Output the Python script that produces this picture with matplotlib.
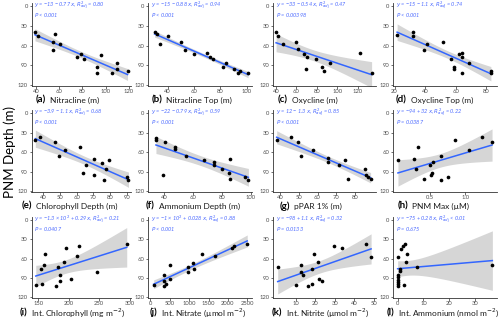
import numpy as np
import matplotlib
matplotlib.use("Agg")
import matplotlib.pyplot as plt

plt.rcParams['font.family'] = ['Lato', 'DejaVu Sans']

# ---- data (PNM depth in m, y axis) ----
nitracline_x = [39, 42, 56, 55, 61, 55, 75, 79, 81, 96, 93, 93, 106, 110, 110, 119]
nitracline_y = [39, 46, 43, 54, 57, 67, 77, 73, 81, 74, 92, 102, 101, 86, 96, 98]

nitr_top_x = [30, 31.6, 34, 40, 50, 53.4, 60, 70, 72.4, 74, 82, 84, 90, 93, 95, 101]
nitr_top_y = [39, 42, 57, 46, 54, 67, 73, 71, 77, 81, 92, 86, 96, 102, 99, 101]

oxycline_x = [40, 42, 47, 59.5, 62, 67, 70, 69.7, 79, 84.6, 87, 93, 122.5, 133.7]
oxycline_y = [39, 46, 57, 54, 66, 73, 77, 96, 81, 92, 98, 86, 71, 102]

oxy_top_x = [21.7, 32, 32, 41, 39.4, 52, 57, 59, 59, 62, 64, 64, 64, 68.4, 83, 83]
oxy_top_y = [43.5, 40, 46, 58, 67, 55, 81, 92, 96, 73, 71, 77, 101, 86, 98, 101]

chl_depth_x = [35.3, 38.2, 47, 49.6, 53.3, 61.8, 63.7, 65.3, 70.4, 70.4, 75, 76.3, 77.5, 79.4, 90, 91]
chl_depth_y = [41, 37, 44, 66, 57, 52, 91.5, 80, 70, 96, 77, 103, 86, 73, 98, 103]

nh4_depth_x = [34.5, 34.5, 41, 48, 48, 55, 68, 75, 75, 80, 85, 86, 86, 96, 98.5, 39.5]
nh4_depth_y = [38, 41, 44, 53, 55.5, 66, 72.5, 76, 80, 86, 92, 70, 102, 98.6, 103, 96]

ppar_x = [38, 45.7, 49.3, 51, 57.7, 65.7, 65.4, 71.6, 74.8, 76.4, 85.4, 86.3, 87.3, 88.6]
ppar_y = [42, 37, 44.4, 66, 56.6, 69, 76, 80, 72.5, 102, 86, 96, 98.6, 102]

pnm_max_x = [0.05, 0.27, 0.3, 0.34, 0.42, 0.51, 0.52, 0.53, 0.54, 0.66, 0.66, 0.76, 0.85, 1.06, 1.24, 1.38]
pnm_max_y = [73, 70, 86, 53, 102, 80, 95, 92.6, 76, 66, 103, 99, 41, 56.6, 37, 44.4]

int_chl_x = [146, 156, 155, 159, 160.5, 179, 182.6, 185, 186, 192, 196, 204, 214, 217, 247, 295]
int_chl_y = [102, 99, 77, 70, 53, 103, 72.5, 95, 86, 66, 44, 91.5, 56.6, 41, 81, 37]

int_no3_x = [85, 342, 359, 359, 402, 513, 513, 983, 983, 1111, 1137, 1342, 1667, 2095, 2155, 2497]
int_no3_y = [102, 95, 86, 103, 99, 92, 70, 72.5, 80.6, 67, 77, 53, 56.6, 44, 41, 38]

int_no2_x = [0.9, 10.4, 12.7, 12.7, 14, 16.4, 18.5, 18.5, 19.5, 21.6, 22.2, 23.5, 29.5, 33.6, 46, 48.5]
int_no2_y = [73, 102, 70, 81, 86, 103, 99.5, 77, 53, 66, 91.5, 95, 41, 44, 38, 57]

int_nh4_x = [0, 0, 0, 0, 0, 0, 0, 0.9, 0.9, 1.3, 2.2, 2.8, 2.6, 3.2, 3.5, 7.6, 36.7]
int_nh4_y = [57, 85, 89, 94, 97, 99, 103, 77, 80, 45, 41, 38, 102, 66, 53, 73, 70]

letters = ['a', 'b', 'c', 'd', 'e', 'f', 'g', 'h', 'i', 'j', 'k', 'l']
xlabels = ['Nitracline (m)', 'Nitracline Top (m)', 'Oxycline (m)', 'Oxycline Top (m)',
           'Chlorophyll Depth (m)', 'Ammonium Depth (m)', 'pPAR 1% (m)', 'PNM Max (µM)',
           'Int. Chlorophyll (mg m$^{-2}$)', 'Int. Nitrate (µmol m$^{-2}$)',
           'Int. Nitrite (µmol m$^{-2}$)', 'Int. Ammonium (nmol m$^{-2}$)']
equations = ['−13 − 0.77', '−15 − 0.88', '−33 − 0.54', '−15 − 1.1',
             '−3.9 − 1.1', '−22 − 0.79', '12 − 1.3', '−94 + 32',
             '−1.3 × 10$^{2}$ + 0.29', '−1 × 10$^{2}$ + 0.028', '−98 + 1.1', '−75 + 0.28']
r2_text = ['= 0.80', '= 0.94', '= 0.47', '= 0.74', '= 0.68', '= 0.59',
           '= 0.85', '= 0.22', '= 0.21', '= 0.88', '= 0.32', '< 0.01']
p_text = ['< 0.001', '< 0.001', '= 0.00398', '< 0.001', '< 0.001', '< 0.001',
          '< 0.001', '= 0.0387', '= 0.0407', '< 0.001', '= 0.0133', '= 0.675']

xs_all = [nitracline_x, nitr_top_x, oxycline_x, oxy_top_x, chl_depth_x, nh4_depth_x,
          ppar_x, pnm_max_x, int_chl_x, int_no3_x, int_no2_x, int_nh4_x]
ys_all = [nitracline_y, nitr_top_y, oxycline_y, oxy_top_y, chl_depth_y, nh4_depth_y,
          ppar_y, pnm_max_y, int_chl_y, int_no3_y, int_no2_y, int_nh4_y]

xticks = [[40, 60, 80, 100, 120], [40, 60, 80, 100], [40, 60, 80, 100, 120], [20, 40, 60, 80],
          [40, 50, 60, 70, 80, 90], [40, 60, 80, 100], [40, 50, 60, 70, 80], [0.5, 1.0],
          [150, 200, 250, 300], [0, 500, 1000, 1500, 2000, 2500], [10, 20, 30, 40, 50], [0, 10, 20, 30]]
xlims = [(36, 122), (25, 104), (37, 138), (19, 87), (33, 92.5), (29, 101), (36, 91.5),
         (-0.02, 1.45), (139, 302), (-60, 2620), (-1.5, 51), (-1.8, 38.5)]

# layout in pixels (figure 500 x 321)
col_left = [31.5, 148, 273, 393]
col_right = [131, 252, 376, 497]
row_top = [3.4, 110.4, 217.4]
row_bottom = [85.7, 191.7, 297.7]
lab_y = [100, 206, 312.5]
lab_left = [50, 166, 292, 411, 36, 159, 294, 412, 31, 161, 286, 398]

W, H = 500, 321
fig = plt.figure(figsize=(W / 100, H / 100), dpi=100)

blue = '#3366FF'
txt_blue = '#4d6bff'

for i in range(12):
    r, c = divmod(i, 4)
    ax_h = row_bottom[r] - row_top[r]
    ax = fig.add_axes([col_left[c] / W, 1 - row_bottom[r] / H,
                       (col_right[c] - col_left[c]) / W, ax_h / H])
    x = np.array(xs_all[i], dtype=float)
    y = np.array(ys_all[i], dtype=float)

    # linear fit with 95% confidence band
    b, a = np.polyfit(x, y, 1)
    n = len(x)
    xf = np.linspace(x.min(), x.max(), 100)
    yf = a + b * xf
    s = np.sqrt(np.sum((y - (a + b * x)) ** 2) / (n - 2))
    se = s * np.sqrt(1 / n + (xf - x.mean()) ** 2 / np.sum((x - x.mean()) ** 2))
    t = 2.13
    ax.fill_between(xf, yf - t * se, yf + t * se, color='#999999', alpha=0.4, lw=0, zorder=1)
    ax.plot(xf, yf, color=blue, lw=1.1, zorder=2)
    ax.scatter(x, y, s=7, color='black', zorder=3, lw=0)

    ax.set_ylim(121, -4)
    ax.set_yticks([0, 30, 60, 90, 120])
    ax.set_xlim(*xlims[i])
    ax.set_xticks(xticks[i])
    if i == 7:
        ax.set_xticklabels(['0.5', '1.0'])
    for sp in ['top', 'right']:
        ax.spines[sp].set_visible(False)
    for sp in ['left', 'bottom']:
        ax.spines[sp].set_linewidth(0.6)
        ax.spines[sp].set_color('#333333')
    ax.tick_params(length=1.8, width=0.5, color='#333333', labelsize=4.2,
                   labelcolor='#4d4d4d', pad=0.8)

    # stats text: two lines, baselines ~4 px and ~13 px under the panel top
    ax.text(0.03, 1 - 4.2 / ax_h, '$y$ = ' + equations[i] + ' $x$, $R^{2}_{adj}$ ' + r2_text[i],
            transform=ax.transAxes, ha='left', va='baseline', fontsize=4,
            color=txt_blue, style='italic')
    ax.text(0.03, 1 - 13.5 / ax_h, '$P$ ' + p_text[i], transform=ax.transAxes,
            ha='left', va='baseline', fontsize=4, color=txt_blue, style='italic')

    fig.text(lab_left[i] / W, 1 - lab_y[r] / H, xlabels[i], ha='left', va='center',
             fontsize=6, color='#1a1a1a')
    fig.text((lab_left[i] - 4) / W, 1 - lab_y[r] / H, '(' + letters[i] + ')', ha='right',
             va='center', fontsize=7, fontweight='bold', color='black')

fig.text(10 / W, 1 - 152 / H, 'PNM Depth (m)', rotation=90, ha='center', va='center',
         fontsize=9.5, color='black')

fig.savefig('out.png', dpi=100)
